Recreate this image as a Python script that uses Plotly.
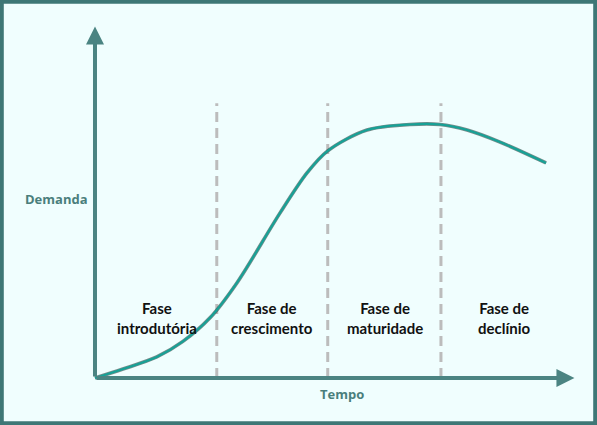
import plotly.graph_objects as go

# Data (demand curve across the product life cycle)
tempo = [0, 6.2, 13.7, 19.5, 25.5, 31.5, 41.0, 47.0, 51.6, 60.3, 69.8, 76.5, 82.5, 89.8, 100]
demanda = [0, 3.6, 8.4, 14.6, 24.0, 38.0, 65.7, 81.7, 90.5, 98.8, 101, 101, 98.8, 94, 85.7]

limites_fase = [27, 51.6, 76.7]
fases = ["Fase<br>introdutória", "Fase de<br>crescimento", "Fase de<br>maturidade", "Fase de<br>declínio"]
centro_fase = [13.7, 39.2, 64.2, 90.9]

axis_color = '#4b8482'
curve_color = '#17a196'
bg = '#f0fefe'

fig = go.Figure()

# shadow under the curve
fig.add_trace(go.Scatter(
    x=tempo, y=demanda, mode='lines',
    line=dict(color='rgba(35,65,62,0.6)', width=3.6, shape='spline', smoothing=0.9),
    hoverinfo='skip', showlegend=False
))
fig.add_trace(go.Scatter(
    x=tempo, y=demanda, mode='lines',
    line=dict(color=curve_color, width=2.2, shape='spline', smoothing=0.9),
    showlegend=False
))

# dashed phase boundaries
for x in limites_fase:
    fig.add_shape(type='line', x0=x, x1=x, y0=0, y1=109.5, xref='x', yref='y',
                  line=dict(color='#bcbcbc', width=3, dash='10px,6px'), layer='below')

# axes with arrowheads
fig.add_annotation(x=106.3, y=0, ax=0, ay=0, axref='x', ayref='y', text='',
                   showarrow=True, arrowhead=2, arrowsize=0.9, arrowwidth=4, arrowcolor=axis_color)
fig.add_annotation(x=0, y=140, ax=0, ay=0, axref='x', ayref='y', text='',
                   showarrow=True, arrowhead=2, arrowsize=0.9, arrowwidth=4, arrowcolor=axis_color)

# phase labels
for label, cx in zip(fases, centro_fase):
    fig.add_annotation(x=cx, y=23.9, text='<b>' + label + '</b>', showarrow=False,
                       font=dict(family='Lato', size=15, color='#111111'), align='center')

# axis titles
fig.add_annotation(x=-8.6, y=71.3, text='<b>Demanda</b>', showarrow=False,
                   font=dict(family='Open Sans', size=13, color='#4a7e7c'))
fig.add_annotation(x=54.8, y=-6.4, text='<b>Tempo</b>', showarrow=False,
                   font=dict(family='Open Sans', size=13, color='#4a7e7c'))

# outer frame
fig.add_shape(type='rect', xref='paper', yref='paper', x0=0.003, x1=0.997, y0=0.004, y1=0.996,
              line=dict(color='#3e7776', width=4), fillcolor='rgba(0,0,0,0)')

fig.update_layout(
    width=597, height=425,
    margin=dict(l=0, r=0, t=0, b=0),
    paper_bgcolor=bg, plot_bgcolor=bg,
    xaxis=dict(range=[-21.06, 111.3], visible=False, fixedrange=True),
    yaxis=dict(range=[-18.7, 150.6], visible=False, fixedrange=True),
    showlegend=False
)

fig.write_html("out.html", config={'displayModeBar': False},
               post_script="document.body.style.margin='0';")
